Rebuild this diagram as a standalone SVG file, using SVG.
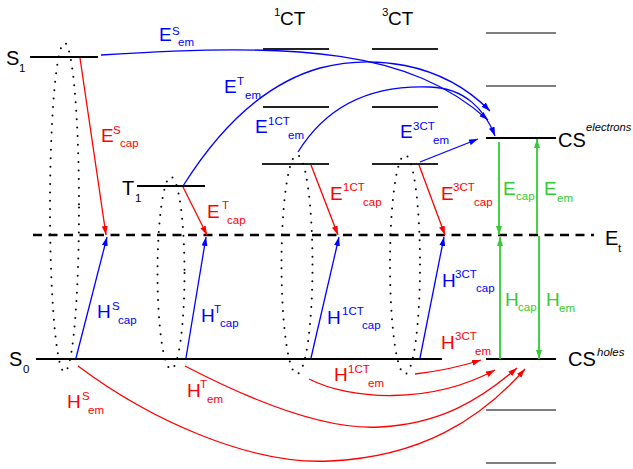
<svg xmlns="http://www.w3.org/2000/svg" width="633" height="469" viewBox="0 0 633 469">
<defs>
<style>
text{font-family:"Liberation Sans",Arial,sans-serif}
.big{font-size:20px;fill:#000}
.lab{font-size:19px}
.sm{font-size:11.5px}
.it{font-size:11.2px;font-style:italic;fill:#000}
.r{fill:#ff0000}.b{fill:#0000ff}.g{fill:#33cc33}.k{fill:#000}
.lvl{stroke:#000;stroke-width:2}
.ct{stroke:#222;stroke-width:1.8}
.gr{stroke:#555;stroke-width:1.6}
.dot{fill:none;stroke:#000;stroke-width:2;stroke-linecap:round;stroke-dasharray:0 8.5}
.ar{fill:none;stroke:#ff0000;stroke-width:1.3;marker-end:url(#mr)}
.ab{fill:none;stroke:#0000ff;stroke-width:1.3;marker-end:url(#mb)}
.ag{fill:none;stroke:#33cc33;stroke-width:1.8;marker-end:url(#mg)}
</style>
<marker id="mr" markerUnits="userSpaceOnUse" markerWidth="9" markerHeight="6" refX="9" refY="3" orient="auto"><path d="M0,0L9,3L0,6z" fill="#ff0000"/></marker>
<marker id="mb" markerUnits="userSpaceOnUse" markerWidth="9" markerHeight="6" refX="9" refY="3" orient="auto"><path d="M0,0L9,3L0,6z" fill="#0000ff"/></marker>
<marker id="mg" markerUnits="userSpaceOnUse" markerWidth="9" markerHeight="6" refX="9" refY="3" orient="auto"><path d="M0,0L9,3L0,6z" fill="#33cc33"/></marker>
</defs>
<rect width="633" height="469" fill="#fff"/>

<g id="Et">
<line x1="33" y1="235" x2="594" y2="235" stroke="#000" stroke-width="2.5" stroke-dasharray="9 6.5"/>
<text class="big" x="605" y="245">E</text><text class="sm k" x="618" y="252">t</text>
</g>

<g id="S1">
<line class="lvl" x1="30" y1="57" x2="98" y2="57"/>
<text class="big" x="6" y="65">S</text><text class="sm k" x="19" y="72">1</text>
</g>
<g id="S0">
<line class="lvl" x1="36" y1="359" x2="442" y2="359"/>
<text class="big" x="9" y="366">S</text><text class="sm k" x="23" y="373">0</text>
</g>
<g id="T1">
<line class="lvl" x1="137" y1="186" x2="205" y2="186"/>
<text class="big" x="122" y="195">T</text><text class="sm k" x="135" y="202">1</text>
</g>
<g id="CT1">
<text class="sm k" x="274" y="16">1</text><text class="big" x="280" y="25" style="font-size:19px">CT</text>
<line class="ct" x1="263" y1="49" x2="329" y2="49"/>
<line class="ct" x1="263" y1="107" x2="329" y2="107"/>
<line class="ct" x1="262" y1="164" x2="329" y2="164"/>
</g>
<g id="CT3">
<text class="sm k" x="382" y="16">3</text><text class="big" x="388" y="25" style="font-size:19px">CT</text>
<line class="ct" x1="372" y1="49" x2="438" y2="49"/>
<line class="ct" x1="372" y1="107" x2="438" y2="107"/>
<line class="ct" x1="372" y1="164" x2="438" y2="164"/>
</g>
<g id="CSe">
<line class="gr" x1="486" y1="33" x2="556" y2="33"/>
<line class="gr" x1="486" y1="86" x2="556" y2="86"/>
<line class="lvl" x1="486" y1="138" x2="556" y2="138"/>
<text class="big" x="558" y="147">CS</text><text class="it" x="586" y="131">electrons</text>
</g>
<g id="CSh">
<line class="lvl" x1="486" y1="359" x2="556" y2="359"/>
<line class="gr" x1="486" y1="410" x2="556" y2="410"/>
<line class="gr" x1="486" y1="463" x2="556" y2="463"/>
<text class="big" x="568" y="366">CS</text><text class="it" x="597" y="356" style="font-size:11.5px">holes</text>
</g>

<g id="ellipses">
<ellipse class="dot" cx="64.5" cy="207.5" rx="14.5" ry="164.5"/>
<ellipse class="dot" cx="171" cy="273" rx="13.5" ry="96"/>
<ellipse class="dot" cx="297" cy="264.5" rx="15.5" ry="109.5"/>
<ellipse class="dot" cx="405" cy="264.5" rx="15" ry="109.5"/>
</g>

<g id="connectors">
<path class="ar" d="M80,58L106,235"/>
<path class="ar" d="M183,187L207,235"/>
<path class="ar" d="M311,165L338,235"/>
<path class="ar" d="M419,165L445,235"/>
<path class="ab" d="M76,358L107,237"/>
<path class="ab" d="M186,358L206,237"/>
<path class="ab" d="M311,358L339,237"/>
<path class="ab" d="M420,358L444,237"/>
<path class="ab" d="M101,55C300,42 410,50 488,120"/>
<path class="ab" d="M183,186C215,135 260,85 320,68C370,55 440,60 490,111"/>
<path class="ab" d="M298,152C330,100 380,85 430,87C465,88 485,110 495,136"/>
<path class="ab" d="M420,162L478,139"/>
<path class="ar" d="M78,366C150,420 250,465 330,461C420,457 480,420 525,369"/>
<path class="ar" d="M185,366C260,405 330,430 380,427C440,424 480,400 517,368"/>
<path class="ar" d="M309,379C350,400 430,405 495,370"/>
<path class="ar" d="M415,374Q450,370 481,360"/>
<path class="ag" d="M499,142L499,235"/>
<path class="ag" d="M500,359L500,237"/>
<path class="ag" d="M537,234L537,139"/>
<path class="ag" d="M539,236L539,359"/>
</g>

<g id="labels">
<text class="lab b" x="159" y="41">E</text><text class="sm b" x="172" y="35">S</text><text class="sm b" x="178" y="46">em</text>
<text class="lab r" x="101" y="142">E</text><text class="sm r" x="113" y="134">S</text><text class="sm r" x="120" y="147">cap</text>
<text class="lab b" x="224" y="93">E</text><text class="sm b" x="237" y="85">T</text><text class="sm b" x="245" y="99">em</text>
<text class="lab b" x="255" y="133">E</text><text class="sm b" x="268" y="125">1CT</text><text class="sm b" x="288" y="139">em</text>
<text class="lab b" x="400" y="138">E</text><text class="sm b" x="413" y="130">3CT</text><text class="sm b" x="433" y="144">em</text>
<text class="lab r" x="207" y="218">E</text><text class="sm r" x="222" y="209">T</text><text class="sm r" x="227" y="224">cap</text>
<text class="lab r" x="330" y="200">E</text><text class="sm r" x="343" y="191">1CT</text><text class="sm r" x="363" y="206">cap</text>
<text class="lab r" x="441" y="200">E</text><text class="sm r" x="453" y="191">3CT</text><text class="sm r" x="474" y="206">cap</text>
<text class="lab b" x="97" y="318">H</text><text class="sm b" x="112" y="310">S</text><text class="sm b" x="118" y="324">cap</text>
<text class="lab b" x="201" y="322">H</text><text class="sm b" x="214" y="313">T</text><text class="sm b" x="220" y="327">cap</text>
<text class="lab b" x="327" y="324">H</text><text class="sm b" x="342" y="315">1CT</text><text class="sm b" x="362" y="329">cap</text>
<text class="lab b" x="442" y="287">H</text><text class="sm b" x="455" y="278">3CT</text><text class="sm b" x="476" y="292">cap</text>
<text class="lab r" x="67" y="408">H</text><text class="sm r" x="82" y="400">S</text><text class="sm r" x="88" y="414">em</text>
<text class="lab r" x="187" y="397">H</text><text class="sm r" x="200" y="388">T</text><text class="sm r" x="207" y="403">em</text>
<text class="lab r" x="334" y="381">H</text><text class="sm r" x="348" y="373">1CT</text><text class="sm r" x="368" y="387">em</text>
<text class="lab r" x="441" y="349">H</text><text class="sm r" x="455" y="340">3CT</text><text class="sm r" x="475" y="355">em</text>
<text class="lab g" x="503" y="195">E</text><text class="sm g" x="516" y="200">cap</text>
<text class="lab g" x="544" y="195">E</text><text class="sm g" x="557" y="202">em</text>
<text class="lab g" x="505" y="306">H</text><text class="sm g" x="518" y="311">cap</text>
<text class="lab g" x="546" y="306">H</text><text class="sm g" x="559" y="312">em</text>
</g>
</svg>
